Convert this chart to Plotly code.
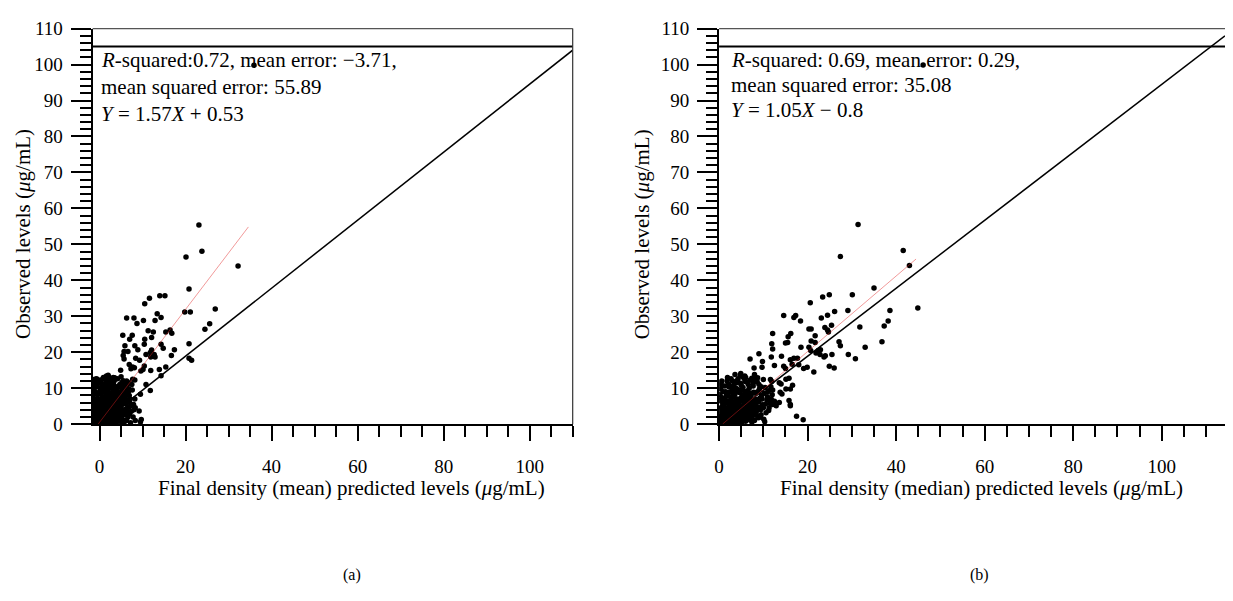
import plotly.graph_objects as go

W, H = 1233, 601
PAGE_MARGIN = 8  # default body margin of the html page
FW, FH = W - 2 * PAGE_MARGIN, H - 2 * PAGE_MARGIN

# ---------------- data ----------------
# Panel (a): final density (mean) predicted vs observed
a_x = [23.1, 23.8, 20.1, 32.2, 20.8, 14.0, 15.2, 11.6, 10.5, 26.9, 19.8, 21.1, 6.3, 8.0, 13.4, 14.3,
       10.2, 8.7, 12.9, 25.6, 24.5, 16.4, 15.4, 16.8, 11.3, 12.5, 5.4, 7.6, 7.0, 10.5, 12.1, 5.9,
       8.2, 8.9, 10.4, 14.3, 20.8, 14.8, 17.4, 5.7, 6.6, 12.1, 11.8, 10.8, 12.7, 12.9, 11.9, 5.5,
       5.7, 8.4, 9.3, 16.7, 20.8, 21.4, 6.9, 8.1, 10.4, 7.3, 7.7, 9.6, 10.1, 4.9, 15.4, 13.9, 14.3,
       11.9, 8.2, 10.8, 11.8, 9.5, 5.8, 3.5, 2.2, 1.5, -0.5, -0.3, 7.7, 6.8, 8.3, 9.2, 9.7, 9.5,
       6.2, 5.1, 6.6, 35.9,
       -1.8, -1.5, -1.2, -1.0, -0.8, -0.5, -0.3, 0.0, 0.2, 0.4, 0.6, 0.8, 1.0, 1.2, 1.4, 1.6, 1.8,
       2.0, 2.2, 2.4, 2.6, 2.8, 3.0, 3.2, 3.4, 3.6, 3.8, 4.0, 4.2, 4.4, 4.6, 4.8, 5.0, 5.2, 5.4,
       5.6, 5.8, 6.0, 6.3, 6.6, 7.0, 7.4, -1.7, -1.4, -1.1, -0.9, -0.6, -0.2, 0.1, 0.3, 0.5, 0.7,
       0.9, 1.1, 1.3, 1.5, 1.7, 1.9, 2.1, 2.3, 2.5, 2.7, 2.9, 3.1, 3.3, 3.5, 3.9, 4.3, 4.7, 5.1,
       5.5, 6.1, 6.8, -1.9, -1.6, -1.3, -0.7, -0.4, 0.0, 0.2, 0.5, 0.8, 1.0, 1.3, 1.5, 1.9, 2.1,
       2.4, 2.7, 3.0, 3.3, 3.6, 3.9, 4.1, 4.5, 4.9, 5.3, 5.7, 6.2, 6.5, -1.0, -0.5, 0.0, 0.6,
       -1.5, -1.8, 0.4, 1.2, 2.0, 2.2, 1.6, 0.9, 0.3, -0.1, 3.7, 4.4, 5.9, 6.9, 7.6, 8.2, 7.8,
       7.2, 8.0, 6.4, 5.0, 3.2, 2.0, 0.8, -1.2, 1.4, 2.6, 3.4, 4.0, 4.6, 5.5, 1.1, 1.7, 2.3, 2.9,
       3.5, 0.6, -0.2, -0.9, -1.4, 0.1, 1.8, 2.5, 3.1, 3.8, 4.2,
       -1.9, -1.6, -1.3, -1.1, -0.8, -0.4, -0.1, 0.2, 0.5, 0.7, 1.0, 1.2, 1.4, 1.6, 1.8, 2.0, 2.2,
       2.4, 2.6, 2.8, 3.0, 3.2, 3.4, 3.6, 3.8, 4.0, 4.2, 4.4, 4.6, 4.8, 5.0, 5.2, 5.4, 5.6, 5.8,
       6.0, 6.3, 6.7, 7.1, 7.5, -1.8, -1.5, -1.2, -1.0, -0.7, -0.5, -0.3, 0.0, 0.3, 0.6, 0.9, 1.1,
       1.4, 1.7, 2.0, 2.3, 2.6, 2.9, 3.2, 3.5, 3.8, 4.1, 4.4, 4.7, 5.0, 5.3, 5.6, 5.9, 6.2, 6.6,
       7.0, 7.4, 7.9, 8.3, -1.6, -0.6, 0.4, 1.3, 2.2, 3.1, 4.3, 5.1, 6.0, 6.8, -1.9, -1.4, -0.2,
       0.9, 1.6, -1.7]
a_y = [55.4, 48.1, 46.5, 44.0, 37.6, 35.7, 35.7, 35.0, 33.5, 32.0, 31.2, 31.2, 29.5, 29.5, 30.7, 29.7,
       28.8, 28.0, 28.8, 27.9, 26.4, 26.2, 25.6, 25.3, 26.0, 25.6, 24.7, 24.7, 23.6, 23.6, 24.1, 21.8,
       21.8, 20.7, 22.2, 22.2, 22.4, 21.1, 20.7, 20.2, 20.2, 20.6, 19.9, 19.4, 19.4, 18.7, 18.7, 19.1,
       18.1, 18.3, 17.8, 19.1, 18.3, 17.8, 16.6, 15.7, 16.2, 15.4, 15.9, 14.8, 15.2, 15.0, 15.9, 15.2, 13.5,
       14.9, 12.3, 11.0, 9.4, 8.3, 11.2, 12.9, 13.1, 12.9, 12.5, 11.6, 12.5, 9.8, 4.6, 3.7, 1.3, 0.6,
       4.1, 0.6, 2.3, 99.8,
       0.3, 0.8, 1.5, 0.2, 2.2, 1.0, 3.1, 0.5, 1.8, 2.6, 0.9, 3.5, 1.3, 4.2, 0.4, 2.9, 5.1,
       1.7, 3.8, 0.6, 6.0, 2.3, 4.6, 1.1, 5.5, 3.2, 7.1, 2.0, 4.9, 0.8, 6.3, 3.6, 8.2, 1.5, 5.7,
       2.8, 7.4, 4.1, 1.0, 6.8, 3.0, 5.2, 4.5, 6.2, 3.8, 5.4, 7.0, 4.4, 6.1, 8.3, 5.0, 7.5,
       9.6, 6.4, 8.8, 10.5, 7.2, 9.1, 11.3, 8.0, 10.1, 12.0, 7.8, 9.5, 11.7, 8.6, 10.4, 9.0, 11.0, 10.2,
       12.1, 9.7, 11.5, 2.0, 3.0, 0.1, 0.6, 2.0, 3.0, 0.1, 4.0, 0.3, 2.4, 3.0, 1.0, 3.3, 0.2,
       4.4, 1.4, 3.0, 0.3, 2.4, 4.0, 1.2, 3.0, 2.0, 4.0, 0.5, 2.6, 4.5, 9.0, 10.4, 11.8, 12.4,
       8.0, 11.0, 10.0, 12.8, 6.6, 5.0, 6.0, 4.8, 7.0, 8.8, 6.0, 7.6, 6.2, 8.0, 9.5, 7.0, 2.0,
       0.4, 4.0, 10.8, 13.2, 13.0, 13.6, 11.0, 12.0, 5.4, 3.5, 2.0, 5.6, 4.2, 3.4, 0.8, 1.9, 2.6, 0.9,
       4.3, 1.6, 1.4, 2.7, 1.6, 2.3, 4.0, 5.6, 6.7, 3.4, 2.6,
       5.5, 7.2, 9.8, 11.0, 12.6, 6.0, 5.2, 9.4, 11.2, 8.9, 10.2, 5.8, 7.6, 11.8, 8.4, 9.8, 7.0,
       12.2, 8.6, 10.6, 7.2, 10.8, 9.2, 12.4, 8.2, 10.0, 12.6, 8.8, 10.4, 6.8, 9.0, 11.6, 7.8, 9.4, 10.8,
       8.4, 12.0, 9.0, 7.0, 11.0, 1.2, 2.6, 4.0, 6.8, 3.6, 8.2, 0.3, 6.8, 4.6, 3.0, 6.5, 2.0,
       3.6, 0.6, 4.4, 1.2, 2.0, 5.2, 3.6, 1.5, 0.5, 3.8, 5.0, 1.6, 5.0, 2.4, 6.4, 1.0, 3.8, 2.0,
       6.0, 3.6, 5.5, 1.0, 0.1, 4.9, 1.0, 1.9, 0.8, 2.2, 4.0, 6.8, 5.6, 4.8, 8.8, 10.6, 12.0,
       13.0, 13.4, 12.5]

# Panel (b): final density (median) predicted vs observed
b_x = [31.4, 41.6, 43.0, 27.4, 35.0, 30.1, 23.4, 24.9, 20.6, 44.9, 38.6, 29.1, 26.1, 24.5, 23.1,
       14.6, 16.9, 17.3, 18.4, 38.2, 37.3, 31.8, 25.4, 23.9, 24.5, 24.7, 20.3, 20.8, 21.7, 12.1,
       16.2, 15.6, 20.8, 21.7, 27.1, 27.4, 36.8, 33.0, 11.9, 12.1, 15.0, 15.5, 18.5, 20.3, 20.7,
       22.4, 22.9, 21.9, 22.8, 25.5, 29.2, 30.8, 23.7, 24.0, 11.8, 14.1, 7.0, 9.0, 9.8, 7.9, 9.7,
       16.1, 16.9, 17.7, 16.5, 18.0, 19.1, 19.9, 21.4, 24.9, 26.0, 12.5, 14.6, 15.0, 4.9, 5.8, 3.9,
       8.0, 8.7, 11.6, 11.9, 13.6, 14.0, 15.1, 15.8, 15.1, 16.1, 16.6, 11.2, 12.1, 13.8, 14.2,
       11.8, 12.5, 12.1, 12.9, 13.6, 15.8, 16.1, 16.1, 17.5, 19.0, 10.3, 46.1,
       0.3, 0.5, 0.7, 0.9, 1.1, 1.3, 1.5, 1.7, 1.9, 2.1, 2.3, 2.5, 2.7, 2.9, 3.1, 3.3, 3.5, 3.7,
       3.9, 4.1, 4.3, 4.5, 4.7, 4.9, 5.1, 5.3, 5.5, 5.7, 5.9, 6.1, 6.3, 6.5, 6.7, 6.9, 7.1, 7.3,
       7.5, 7.7, 7.9, 8.1, 8.4, 8.7, 9.0, 9.3, 9.6, 10.0, 10.4, 10.8, 11.2, 0.4, 0.6, 0.8, 1.0,
       1.2, 1.4, 1.6, 1.8, 2.0, 2.2, 2.4, 2.6, 2.8, 3.0, 3.2, 3.4, 3.6, 3.8, 4.0, 4.2, 4.4, 4.6,
       4.8, 5.0, 5.2, 5.4, 5.6, 5.8, 6.0, 6.2, 6.4, 6.6, 6.8, 7.0, 7.2, 7.4, 7.6, 7.8, 8.0, 8.3,
       8.6, 8.9, 9.2, 9.5, 9.8, 10.2, 10.6, 11.0, 11.5, 0.2, 0.5, 0.9, 1.2, 1.6, 2.0, 2.4, 2.9,
       3.3, 3.7, 4.1, 4.6, 5.0, 5.5, 6.0, 6.6, 7.2, 7.8, 8.4, 9.0, 1.0, 1.5, 0.3, 0.2, 2.2, 3.0,
       4.0, 4.8, 6.0, 0.5, 1.8, 3.5, 4.4, 5.2, 6.3, 2.6, 3.2, 1.4, 0.7,
       0.2, 0.4, 0.6, 0.8, 1.0, 1.2, 1.4, 1.6, 1.8, 2.0, 2.2, 2.4, 2.6, 2.8, 3.0, 3.2, 3.4, 3.6,
       3.8, 4.0, 4.2, 4.4, 4.6, 4.8, 5.0, 5.2, 5.4, 5.6, 5.8, 6.0, 6.2, 6.4, 6.6, 6.8, 7.0, 7.2,
       7.4, 7.6, 7.8, 8.0, 8.2, 8.5, 8.8, 9.1, 9.4, 9.7, 10.1, 10.5, 10.9, 11.3, 0.3, 0.5, 0.7,
       0.9, 1.1, 1.3, 1.7, 2.1, 2.5, 2.9, 3.3, 3.9, 4.3, 4.9, 5.5, 0.4, 0.6, 1.9, 2.7, 3.6, 0.1,
       0.35, 1.05, 1.55, 2.15, 2.45, 3.05, 3.55, 4.05, 4.55, 5.15, 5.65, 6.25, 6.85, 7.5, 8.1, 8.9,
       9.5, 6.0, 7.0, 8.0, 9.0, 10.0, 11.7, 12.0, 12.4]
b_y = [55.5, 48.3, 44.1, 46.6, 37.9, 36.0, 35.4, 36.0, 33.8, 32.3, 31.6, 31.6, 31.3, 30.3, 29.5,
       30.2, 29.7, 30.2, 28.7, 28.7, 27.3, 27.0, 27.5, 26.9, 26.2, 25.6, 26.5, 26.5, 24.6, 25.2,
       25.2, 24.3, 23.1, 22.7, 22.9, 21.8, 22.9, 21.4, 22.4, 20.9, 22.6, 22.7, 21.4, 21.4, 20.5,
       20.5, 20.7, 19.8, 19.4, 19.4, 19.4, 18.2, 18.7, 19.0, 18.7, 18.9, 18.1, 19.6, 17.4, 15.6, 15.8,
       17.9, 18.3, 18.3, 16.7, 16.5, 15.5, 15.8, 14.5, 16.1, 15.6, 16.3, 16.1, 15.5, 14.1, 13.4, 12.0,
       13.8, 12.9, 12.4, 11.9, 11.5, 11.2, 12.5, 12.8, 9.8, 9.8, 10.8, 9.3, 9.5, 8.9, 8.4,
       6.9, 6.4, 5.5, 5.1, 6.0, 6.6, 5.5, 5.1, 2.2, 1.2, 0.7, 99.9,
       0.2, 1.2, 2.5, 0.4, 3.4, 1.6, 0.8, 4.1, 2.2, 0.3, 5.0, 3.0, 1.4, 6.1, 2.5, 4.4, 0.7, 5.5,
       3.1, 7.0, 1.8, 4.9, 2.8, 6.4, 3.8, 8.2, 1.2, 5.6, 3.3, 7.4, 4.5, 9.3, 2.4, 6.2, 4.0, 8.5,
       5.2, 10.6, 3.0, 7.0, 5.0, 9.0, 6.3, 2.0, 8.0, 4.6, 10.2, 6.8, 3.8, 3.0, 4.6, 6.0, 1.0,
       7.3, 2.8, 5.8, 0.2, 8.0, 3.9, 1.0, 6.8, 4.2, 9.2, 0.2, 7.6, 2.0, 10.0, 4.2, 5.8, 0.3, 8.8,
       3.5, 10.8, 5.0, 2.2, 7.0, 12.4, 0.8, 5.9, 3.6, 11.0, 7.8, 1.6, 6.6, 12.8, 3.8, 8.9, 1.0, 6.0,
       11.8, 4.2, 7.2, 10.4, 5.4, 8.6, 3.2, 9.0, 5.8, 1.8, 0.5, 2.0, 0.3, 3.2, 1.8, 2.4, 3.6,
       1.2, 3.8, 2.6, 4.0, 1.8, 4.2, 2.8, 4.4, 3.0, 5.8, 3.4, 4.8, 5.0, 9.0, 6.5, 8.2, 10.4, 12.0,
       11.5, 13.5, 13.0, 11.0, 12.0, 6.3, 6.8, 9.6, 8.3, 5.2, 8.4, 4.4, 3.6,
       0.9, 2.2, 0.1, 3.0, 4.0, 2.2, 0.6, 6.6, 3.8, 2.6, 6.0, 4.6, 0.5, 7.6, 5.4, 3.0, 6.0, 8.4,
       1.5, 6.0, 3.6, 9.6, 5.2, 1.0, 7.4, 4.0, 10.2, 2.8, 6.0, 9.0, 1.6, 7.0, 5.6, 10.0, 3.4, 8.0,
       0.6, 6.4, 11.6, 4.4, 8.6, 2.4, 6.8, 9.8, 4.0, 7.0, 1.4, 5.6, 7.6, 4.6, 4.4, 7.4, 5.0,
       9.0, 6.0, 10.6, 8.0, 11.2, 9.0, 10.4, 10.8, 9.0, 12.6, 11.4, 13.0, 9.8, 12.0, 13.0, 12.6, 13.8, 0.5,
       1.5, 1.6, 2.4, 1.0, 3.4, 0.8, 2.6, 0.9, 1.6, 0.4, 3.4, 3.0, 1.2, 2.2, 3.2, 1.8,
       2.6, 11.8, 12.2, 12.9, 11.0, 12.4, 10.4, 8.2, 6.0]

# Fitted regression lines (slope, intercept, x extent)
fit_a = dict(slope=1.57, intercept=0.53, x=[-1.8, 34.6])
fit_b = dict(slope=1.05, intercept=-0.8, x=[0.8, 44.5])

# Reference (diagonal) lines
diag_a = dict(x=[0, 110.0], y=[0, 104.0])
diag_b = dict(x=[0, 114.3], y=[0, 108.0])
upper_level = 105

x_range_a = [-1.6, 110.0]
x_range_b = [0, 114.3]
y_range = [0, 110]
x_tick_labels = [0, 20, 40, 60, 80, 100]
y_tick_labels = [0, 10, 20, 30, 40, 50, 60, 70, 80, 90, 100, 110]

text_a = ["<i>R</i>-squared:0.72, mean error: −3.71,",
          "mean squared error: 55.89",
          "<i>Y</i> = 1.57<i>X</i> + 0.53"]
text_b = ["<i>R</i>-squared: 0.69, mean error: 0.29,",
          "mean squared error: 35.08",
          "<i>Y</i> = 1.05<i>X</i> − 0.8"]
xtitle_a = "Final density (mean) predicted levels (<i>μ</i>g/mL)"
xtitle_b = "Final density (median) predicted levels (<i>μ</i>g/mL)"
ytitle = "Observed levels (<i>μ</i>g/mL)"
panel_labels = ["(a)", "(b)"]

# ---------------- layout helpers ----------------
FONT = "Liberation Serif"
FS_TICK = 19
FS_TEXT = 21

def px_x(p):  # page pixel -> paper fraction
    return (p - PAGE_MARGIN) / FW

def px_y(p):
    return (FH - (p - PAGE_MARGIN)) / FH

fig = go.Figure()

def add_panel(xs, ys, fit, diag, xa, ya):
    fig.add_trace(go.Scatter(x=xs, y=ys, mode="markers", xaxis=xa, yaxis=ya,
                             marker=dict(color="black", size=5.5, line=dict(width=0)),
                             showlegend=False, hoverinfo="skip"))
    fig.add_trace(go.Scatter(x=diag["x"], y=diag["y"], mode="lines", xaxis=xa, yaxis=ya,
                             line=dict(color="black", width=1.5), showlegend=False, hoverinfo="skip"))
    fx = fit["x"]
    fy = [fit["slope"] * v + fit["intercept"] for v in fx]
    fig.add_trace(go.Scatter(x=fx, y=fy, mode="lines", xaxis=xa, yaxis=ya,
                             line=dict(color="rgba(225,30,30,0.45)", width=1), showlegend=False,
                             hoverinfo="skip"))

add_panel(a_x, a_y, fit_a, diag_a, "x", "y")
add_panel(b_x, b_y, fit_b, diag_b, "x2", "y2")

ydom = [px_y(429.3), px_y(19)]

def xaxis_style(dom, rng, anchor):
    return dict(domain=dom, range=rng, anchor=anchor, showgrid=False, zeroline=False,
                showline=True, linecolor="black", linewidth=2,
                tickmode="array", tickvals=x_tick_labels, ticktext=[str(v) for v in x_tick_labels],
                ticks="outside", ticklen=15, tickwidth=2, tickcolor="black",
                ticklabelstandoff=9,
                minor=dict(dtick=5, tick0=0, ticks="outside", ticklen=11, tickwidth=2,
                           tickcolor="black", showgrid=False),
                tickfont=dict(family=FONT, size=FS_TICK, color="black"))

def yaxis_style(anchor):
    return dict(domain=ydom, range=y_range, anchor=anchor, showgrid=False, zeroline=False,
                showline=True, linecolor="black", linewidth=2,
                tickmode="array", tickvals=y_tick_labels, ticktext=[str(v) for v in y_tick_labels],
                ticks="outside", ticklen=20, tickwidth=2, tickcolor="black",
                ticklabelstandoff=4,
                minor=dict(dtick=2, tick0=0, ticks="outside", ticklen=11, tickwidth=2,
                           tickcolor="black", showgrid=False),
                tickfont=dict(family=FONT, size=FS_TICK, color="black"))

fig.update_layout(
    width=FW, height=FH, margin=dict(l=0, r=0, t=0, b=0),
    paper_bgcolor="white", plot_bgcolor="white",
    xaxis=xaxis_style([px_x(88), px_x(570)], x_range_a, "y"),
    yaxis=yaxis_style("x"),
    xaxis2=xaxis_style([px_x(717), 1.0], x_range_b, "y2"),
    yaxis2=yaxis_style("x2"),
    font=dict(family=FONT, size=FS_TEXT, color="black"),
)

shapes = []
for xr, yr, right in (("x", "y", True), ("x2", "y2", False)):
    shapes.append(dict(type="line", xref=f"{xr} domain", yref=f"{yr} domain", x0=0, x1=1, y0=1, y1=1,
                       line=dict(color="#555", width=1.2)))
    shapes.append(dict(type="line", xref=f"{xr} domain", yref=yr, x0=0, x1=1,
                       y0=upper_level, y1=upper_level, line=dict(color="black", width=2)))
    if right:
        shapes.append(dict(type="line", xref=f"{xr} domain", yref=f"{yr} domain", x0=1, x1=1, y0=0, y1=1,
                           line=dict(color="#333", width=1.2)))
fig.update_layout(shapes=shapes)

ann = []
for lines, x0, ys in ((text_a, 94, [52, 80, 108]), (text_b, 727, [52, 77, 103])):
    for t, yy in zip(lines, ys):
        ann.append(dict(text=t, xref="paper", yref="paper", x=px_x(x0), y=px_y(yy),
                        xanchor="left", yanchor="middle", showarrow=False,
                        font=dict(family=FONT, size=FS_TEXT, color="black")))
ann.append(dict(text=xtitle_a, xref="paper", yref="paper", x=px_x(348), y=px_y(495),
                xanchor="center", yanchor="middle", showarrow=False))
ann.append(dict(text=xtitle_b, xref="paper", yref="paper", x=px_x(980), y=px_y(495),
                xanchor="center", yanchor="middle", showarrow=False))
ann.append(dict(text=ytitle, xref="paper", yref="paper", x=px_x(18), y=px_y(232),
                xanchor="center", yanchor="middle", textangle=-90, showarrow=False))
ann.append(dict(text=ytitle, xref="paper", yref="paper", x=px_x(640), y=px_y(232),
                xanchor="center", yanchor="middle", textangle=-90, showarrow=False))
ann.append(dict(text=panel_labels[0], xref="paper", yref="paper", x=px_x(348), y=px_y(586),
                xanchor="center", yanchor="middle", showarrow=False, font=dict(size=16)))
ann.append(dict(text=panel_labels[1], xref="paper", yref="paper", x=px_x(978), y=px_y(586),
                xanchor="center", yanchor="middle", showarrow=False, font=dict(size=16)))
fig.update_layout(annotations=ann)

fig.write_html("out.html")
